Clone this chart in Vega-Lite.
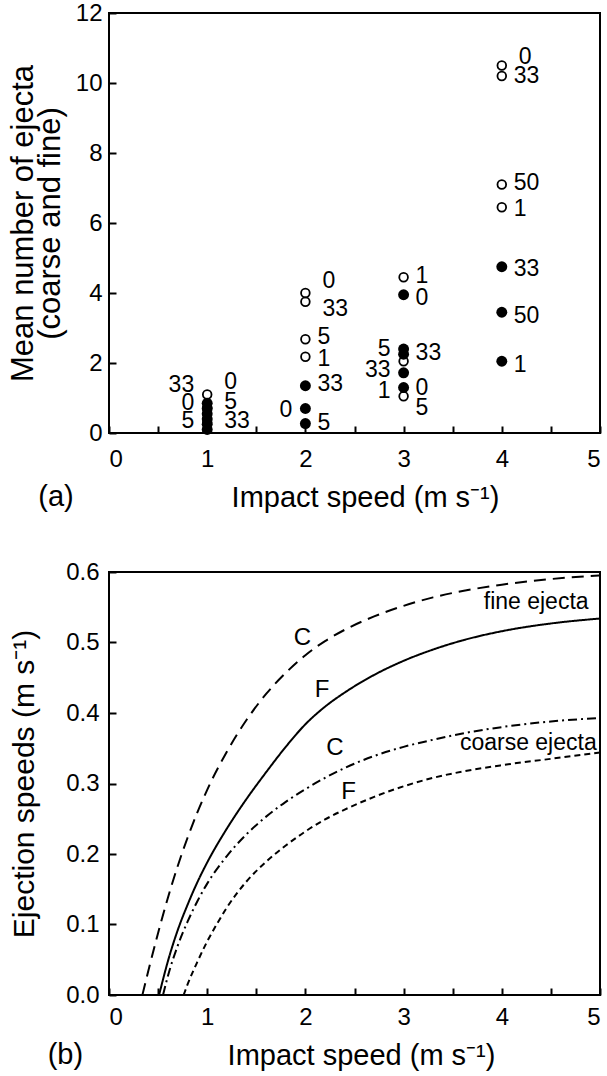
{
  "$schema": "https://vega.github.io/schema/vega-lite/v6.json",
  "padding": {"left": 6, "top": 0, "right": 4, "bottom": 0},
  "spacing": 46,
  "config": {
    "font": "Liberation Sans",
    "view": {"stroke": "black", "strokeWidth": 2},
    "axis": {
      "grid": false,
      "domain": false,
      "ticks": true,
      "offset": -7,
      "tickColor": "black",
      "tickWidth": 2,
      "tickSize": 7,
      "zindex": 1,
      "labelColor": "black",
      "labelFont": "Liberation Sans",
      "labelFontSize": 24,
      "titleColor": "black",
      "titleFont": "Liberation Sans",
      "titleFontSize": 29,
      "titleFontWeight": "normal",
      "labelOverlap": false
    },
    "title": {"font": "Liberation Sans", "fontSize": 29, "fontWeight": "normal", "color": "black"}
  },
  "datasets": {
    "points": [
      {"speed": 1, "n": 1.1, "kind": "fine"},
      {"speed": 1, "n": 0.72, "kind": "fine"},
      {"speed": 1, "n": 0.3, "kind": "fine"},
      {"speed": 1, "n": 0.85, "kind": "coarse"},
      {"speed": 1, "n": 0.7, "kind": "coarse"},
      {"speed": 1, "n": 0.55, "kind": "coarse"},
      {"speed": 1, "n": 0.4, "kind": "coarse"},
      {"speed": 1, "n": 0.25, "kind": "coarse"},
      {"speed": 1, "n": 0.1, "kind": "coarse"},
      {"speed": 2, "n": 4.0, "kind": "fine"},
      {"speed": 2, "n": 3.75, "kind": "fine"},
      {"speed": 2, "n": 2.68, "kind": "fine"},
      {"speed": 2, "n": 2.18, "kind": "fine"},
      {"speed": 2, "n": 1.35, "kind": "coarse"},
      {"speed": 2, "n": 0.7, "kind": "coarse"},
      {"speed": 2, "n": 0.27, "kind": "coarse"},
      {"speed": 3, "n": 4.45, "kind": "fine"},
      {"speed": 3, "n": 2.05, "kind": "fine"},
      {"speed": 3, "n": 1.05, "kind": "fine"},
      {"speed": 3, "n": 3.95, "kind": "coarse"},
      {"speed": 3, "n": 2.4, "kind": "coarse"},
      {"speed": 3, "n": 2.25, "kind": "coarse"},
      {"speed": 3, "n": 1.72, "kind": "coarse"},
      {"speed": 3, "n": 1.3, "kind": "coarse"},
      {"speed": 4, "n": 10.5, "kind": "fine"},
      {"speed": 4, "n": 10.2, "kind": "fine"},
      {"speed": 4, "n": 7.1, "kind": "fine"},
      {"speed": 4, "n": 6.45, "kind": "fine"},
      {"speed": 4, "n": 4.75, "kind": "coarse"},
      {"speed": 4, "n": 3.45, "kind": "coarse"},
      {"speed": 4, "n": 2.05, "kind": "coarse"}
    ],
    "labels": [
      {"speed": 1, "n": 1.38, "text": "33", "side": "L"},
      {"speed": 1, "n": 0.86, "text": "0", "side": "L"},
      {"speed": 1, "n": 0.33, "text": "5", "side": "L"},
      {"speed": 1, "n": 1.45, "text": "0", "side": "RR"},
      {"speed": 1, "n": 0.9, "text": "5", "side": "RR"},
      {"speed": 1, "n": 0.33, "text": "33", "side": "RR"},
      {"speed": 2, "n": 4.35, "text": "0", "side": "RR"},
      {"speed": 2, "n": 3.55, "text": "33", "side": "RR"},
      {"speed": 2, "n": 2.75, "text": "5", "side": "R"},
      {"speed": 2, "n": 2.12, "text": "1", "side": "R"},
      {"speed": 2, "n": 1.4, "text": "33", "side": "R"},
      {"speed": 2, "n": 0.65, "text": "0", "side": "L"},
      {"speed": 2, "n": 0.3, "text": "5", "side": "R"},
      {"speed": 3, "n": 4.5, "text": "1", "side": "R"},
      {"speed": 3, "n": 3.85, "text": "0", "side": "R"},
      {"speed": 3, "n": 2.4, "text": "5", "side": "L"},
      {"speed": 3, "n": 2.3, "text": "33", "side": "R"},
      {"speed": 3, "n": 1.8, "text": "33", "side": "L"},
      {"speed": 3, "n": 1.2, "text": "1", "side": "L"},
      {"speed": 3, "n": 1.3, "text": "0", "side": "R"},
      {"speed": 3, "n": 0.72, "text": "5", "side": "R"},
      {"speed": 4, "n": 10.75, "text": "0", "side": "RR"},
      {"speed": 4, "n": 10.2, "text": "33", "side": "R"},
      {"speed": 4, "n": 7.15, "text": "50", "side": "R"},
      {"speed": 4, "n": 6.4, "text": "1", "side": "R"},
      {"speed": 4, "n": 4.7, "text": "33", "side": "R"},
      {"speed": 4, "n": 3.35, "text": "50", "side": "R"},
      {"speed": 4, "n": 1.95, "text": "1", "side": "R"}
    ],
    "curves": [
      {"speed": 0.34, "v": 0.0, "curve": "fine C"},
      {"speed": 0.4, "v": 0.034, "curve": "fine C"},
      {"speed": 0.5, "v": 0.088, "curve": "fine C"},
      {"speed": 0.6, "v": 0.138, "curve": "fine C"},
      {"speed": 0.7, "v": 0.183, "curve": "fine C"},
      {"speed": 0.8, "v": 0.223, "curve": "fine C"},
      {"speed": 0.9, "v": 0.259, "curve": "fine C"},
      {"speed": 1.0, "v": 0.291, "curve": "fine C"},
      {"speed": 1.2, "v": 0.345, "curve": "fine C"},
      {"speed": 1.4, "v": 0.39, "curve": "fine C"},
      {"speed": 1.6, "v": 0.427, "curve": "fine C"},
      {"speed": 1.8, "v": 0.457, "curve": "fine C"},
      {"speed": 2.0, "v": 0.482, "curve": "fine C"},
      {"speed": 2.2, "v": 0.502, "curve": "fine C"},
      {"speed": 2.4, "v": 0.518, "curve": "fine C"},
      {"speed": 2.7, "v": 0.537, "curve": "fine C"},
      {"speed": 3.0, "v": 0.552, "curve": "fine C"},
      {"speed": 3.3, "v": 0.564, "curve": "fine C"},
      {"speed": 3.6, "v": 0.573, "curve": "fine C"},
      {"speed": 4.0, "v": 0.582, "curve": "fine C"},
      {"speed": 4.5, "v": 0.59, "curve": "fine C"},
      {"speed": 5.0, "v": 0.595, "curve": "fine C"},
      {"speed": 0.51, "v": 0.0, "curve": "fine F"},
      {"speed": 0.55, "v": 0.022, "curve": "fine F"},
      {"speed": 0.6, "v": 0.048, "curve": "fine F"},
      {"speed": 0.7, "v": 0.092, "curve": "fine F"},
      {"speed": 0.8, "v": 0.128, "curve": "fine F"},
      {"speed": 0.9, "v": 0.16, "curve": "fine F"},
      {"speed": 1.0, "v": 0.188, "curve": "fine F"},
      {"speed": 1.2, "v": 0.236, "curve": "fine F"},
      {"speed": 1.4, "v": 0.278, "curve": "fine F"},
      {"speed": 1.6, "v": 0.316, "curve": "fine F"},
      {"speed": 1.8, "v": 0.352, "curve": "fine F"},
      {"speed": 2.0, "v": 0.384, "curve": "fine F"},
      {"speed": 2.2, "v": 0.409, "curve": "fine F"},
      {"speed": 2.4, "v": 0.429, "curve": "fine F"},
      {"speed": 2.7, "v": 0.454, "curve": "fine F"},
      {"speed": 3.0, "v": 0.474, "curve": "fine F"},
      {"speed": 3.3, "v": 0.49, "curve": "fine F"},
      {"speed": 3.6, "v": 0.503, "curve": "fine F"},
      {"speed": 4.0, "v": 0.516, "curve": "fine F"},
      {"speed": 4.5, "v": 0.527, "curve": "fine F"},
      {"speed": 5.0, "v": 0.534, "curve": "fine F"},
      {"speed": 0.55, "v": 0.0, "curve": "coarse C"},
      {"speed": 0.6, "v": 0.027, "curve": "coarse C"},
      {"speed": 0.7, "v": 0.07, "curve": "coarse C"},
      {"speed": 0.8, "v": 0.104, "curve": "coarse C"},
      {"speed": 0.9, "v": 0.133, "curve": "coarse C"},
      {"speed": 1.0, "v": 0.158, "curve": "coarse C"},
      {"speed": 1.2, "v": 0.197, "curve": "coarse C"},
      {"speed": 1.4, "v": 0.228, "curve": "coarse C"},
      {"speed": 1.6, "v": 0.253, "curve": "coarse C"},
      {"speed": 1.8, "v": 0.274, "curve": "coarse C"},
      {"speed": 2.0, "v": 0.292, "curve": "coarse C"},
      {"speed": 2.2, "v": 0.308, "curve": "coarse C"},
      {"speed": 2.4, "v": 0.322, "curve": "coarse C"},
      {"speed": 2.7, "v": 0.339, "curve": "coarse C"},
      {"speed": 3.0, "v": 0.352, "curve": "coarse C"},
      {"speed": 3.3, "v": 0.362, "curve": "coarse C"},
      {"speed": 3.6, "v": 0.371, "curve": "coarse C"},
      {"speed": 4.0, "v": 0.38, "curve": "coarse C"},
      {"speed": 4.5, "v": 0.388, "curve": "coarse C"},
      {"speed": 5.0, "v": 0.393, "curve": "coarse C"},
      {"speed": 0.76, "v": 0.0, "curve": "coarse F"},
      {"speed": 0.8, "v": 0.015, "curve": "coarse F"},
      {"speed": 0.9, "v": 0.047, "curve": "coarse F"},
      {"speed": 1.0, "v": 0.076, "curve": "coarse F"},
      {"speed": 1.1, "v": 0.101, "curve": "coarse F"},
      {"speed": 1.2, "v": 0.124, "curve": "coarse F"},
      {"speed": 1.4, "v": 0.161, "curve": "coarse F"},
      {"speed": 1.6, "v": 0.189, "curve": "coarse F"},
      {"speed": 1.8, "v": 0.212, "curve": "coarse F"},
      {"speed": 2.0, "v": 0.232, "curve": "coarse F"},
      {"speed": 2.2, "v": 0.249, "curve": "coarse F"},
      {"speed": 2.4, "v": 0.263, "curve": "coarse F"},
      {"speed": 2.7, "v": 0.281, "curve": "coarse F"},
      {"speed": 3.0, "v": 0.296, "curve": "coarse F"},
      {"speed": 3.3, "v": 0.308, "curve": "coarse F"},
      {"speed": 3.6, "v": 0.317, "curve": "coarse F"},
      {"speed": 4.0, "v": 0.326, "curve": "coarse F"},
      {"speed": 4.5, "v": 0.335, "curve": "coarse F"},
      {"speed": 5.0, "v": 0.344, "curve": "coarse F"}
    ],
    "notes": [
      {"speed": 1.97, "v": 0.507, "text": "C", "kind": "curve"},
      {"speed": 2.17, "v": 0.432, "text": "F", "kind": "curve"},
      {"speed": 2.3, "v": 0.35, "text": "C", "kind": "curve"},
      {"speed": 2.44, "v": 0.288, "text": "F", "kind": "curve"},
      {"speed": 4.35, "v": 0.557, "text": "fine ejecta", "kind": "group"},
      {"speed": 4.27, "v": 0.358, "text": "coarse ejecta", "kind": "group"}
    ]
  },
  "vconcat": [
    {
      "width": 491,
      "height": 420,
      "title": {"text": "(a)", "orient": "bottom", "anchor": "start", "frame": "bounds", "dx": 31, "offset": -29},
      "layer": [
        {
          "data": {"name": "points"},
          "transform": [{"filter": "datum.kind === 'fine'"}],
          "mark": {"type": "point", "shape": "circle", "filled": false, "stroke": "black", "strokeWidth": 1.8, "size": 75, "opacity": 1},
          "encoding": {
            "x": {"field": "speed", "type": "quantitative", "scale": {"domain": [0, 5]},
                  "axis": {"values": [0, 0.5, 1, 1.5, 2, 2.5, 3, 3.5, 4, 4.5, 5], "labelExpr": "datum.value % 1 === 0 ? format(datum.value, 'd') : ''", "labelPadding": 14, "title": "Impact speed  (m s\u207b\u00b9)", "titlePadding": 12, "titleX": 256}},
            "y": {"field": "n", "type": "quantitative", "scale": {"domain": [0, 12]},
                  "axis": {"values": [0, 1, 2, 3, 4, 5, 6, 7, 8, 9, 10, 11, 12], "labelExpr": "datum.value % 2 === 0 ? format(datum.value, 'd') : ''", "labelPadding": 7, "title": ["Mean number of ejecta", "(coarse and fine)"], "titleFontSize": 31, "titleLineHeight": 27, "titlePadding": 9}}
          }
        },
        {
          "data": {"name": "points"},
          "transform": [{"filter": "datum.kind === 'coarse'"}],
          "mark": {"type": "point", "shape": "circle", "filled": true, "color": "black", "size": 120, "opacity": 1},
          "encoding": {
            "x": {"field": "speed", "type": "quantitative"},
            "y": {"field": "n", "type": "quantitative"}
          }
        },
        {
          "data": {"name": "labels"},
          "transform": [{"filter": "datum.side === 'R'"}],
          "mark": {"type": "text", "align": "left", "baseline": "middle", "dx": 12, "fontSize": 23, "color": "black"},
          "encoding": {
            "x": {"field": "speed", "type": "quantitative"},
            "y": {"field": "n", "type": "quantitative"},
            "text": {"field": "text"}
          }
        },
        {
          "data": {"name": "labels"},
          "transform": [{"filter": "datum.side === 'RR'"}],
          "mark": {"type": "text", "align": "left", "baseline": "middle", "dx": 17, "fontSize": 23, "color": "black"},
          "encoding": {
            "x": {"field": "speed", "type": "quantitative"},
            "y": {"field": "n", "type": "quantitative"},
            "text": {"field": "text"}
          }
        },
        {
          "data": {"name": "labels"},
          "transform": [{"filter": "datum.side === 'L'"}],
          "mark": {"type": "text", "align": "right", "baseline": "middle", "dx": -13, "fontSize": 23, "color": "black"},
          "encoding": {
            "x": {"field": "speed", "type": "quantitative"},
            "y": {"field": "n", "type": "quantitative"},
            "text": {"field": "text"}
          }
        }
      ]
    },
    {
      "width": 491,
      "height": 423,
      "title": {"text": "(b)", "orient": "bottom", "anchor": "start", "frame": "bounds", "dx": 38, "offset": -29},
      "layer": [
        {
          "data": {"name": "curves"},
          "mark": {"type": "line", "color": "black", "strokeWidth": 2, "interpolate": "monotone"},
          "encoding": {
            "x": {"field": "speed", "type": "quantitative", "scale": {"domain": [0, 5]},
                  "axis": {"values": [0, 0.5, 1, 1.5, 2, 2.5, 3, 3.5, 4, 4.5, 5], "labelExpr": "datum.value % 1 === 0 ? format(datum.value, 'd') : ''", "labelPadding": 10, "title": "Impact speed  (m s\u207b\u00b9)", "titlePadding": 12, "titleX": 252}},
            "y": {"field": "v", "type": "quantitative", "scale": {"domain": [0, 0.6]},
                  "axis": {"values": [0, 0.05, 0.1, 0.15, 0.2, 0.25, 0.3, 0.35, 0.4, 0.45, 0.5, 0.55, 0.6], "labelExpr": "round(datum.value * 100) % 10 === 0 ? format(datum.value, '.1f') : ''", "labelPadding": 10, "title": "Ejection speeds  (m s\u207b\u00b9)", "titleFontSize": 30, "titlePadding": 26}},
            "strokeDash": {"field": "curve", "type": "nominal",
                           "scale": {"domain": ["fine C", "fine F", "coarse C", "coarse F"], "range": [[12, 7], [1, 0], [9, 4, 2, 4], [6, 4]]},
                           "legend": null}
          }
        },
        {
          "data": {"name": "notes"},
          "transform": [{"filter": "datum.kind === 'curve'"}],
          "mark": {"type": "text", "align": "center", "baseline": "middle", "fontSize": 24, "color": "black"},
          "encoding": {
            "x": {"field": "speed", "type": "quantitative"},
            "y": {"field": "v", "type": "quantitative"},
            "text": {"field": "text"}
          }
        },
        {
          "data": {"name": "notes"},
          "transform": [{"filter": "datum.kind === 'group'"}],
          "mark": {"type": "text", "align": "center", "baseline": "middle", "fontSize": 23, "color": "black"},
          "encoding": {
            "x": {"field": "speed", "type": "quantitative"},
            "y": {"field": "v", "type": "quantitative"},
            "text": {"field": "text"}
          }
        }
      ]
    }
  ]
}
